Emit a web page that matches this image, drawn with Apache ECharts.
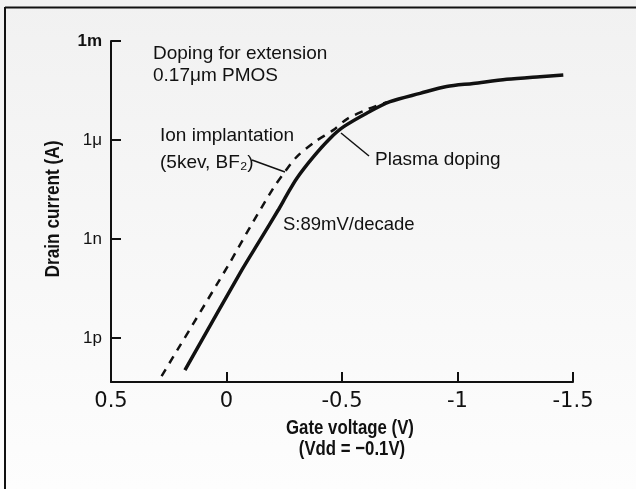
<!DOCTYPE html>
<html>
<head>
<meta charset="utf-8">
<script src="https://cdn.jsdelivr.net/npm/echarts@6/dist/echarts.min.js"></script>
<style>
html,body{margin:0;padding:0;background:#fff;}
#chart{width:636px;height:489px;}
</style>
</head>
<body>
<div id="chart"></div>
<script>
// ---- data (gate voltage in V, drain current in A) ----
var plasmaVg = [0.18, -0.066, -0.145, -0.224, -0.26, -0.304, -0.376, -0.448, -0.506, -0.607, -0.708, -0.838, -0.953, -1.068, -1.213, -1.357, -1.458];
var plasmaId = [1.07e-13, 1.15e-10, 9.3e-10, 7.6e-9, 2.1e-8, 6.9e-8, 3.1e-7, 1.12e-6, 2.5e-6, 6.5e-6, 1.45e-5, 2.6e-5, 4.2e-5, 5.2e-5, 6.9e-5, 8.3e-5, 9.3e-5];
var ionVg = [0.281, -0.008, -0.102, -0.203, -0.253, -0.304, -0.383, -0.462, -0.523, -0.613, -0.695];
var ionId = [7.1e-14, 1.62e-10, 2.3e-9, 3.5e-8, 1.1e-7, 3.1e-7, 8.9e-7, 2.0e-6, 4.4e-6, 8.7e-6, 1.41e-5];
var xTicks = [0.5, 0, -0.5, -1, -1.5];
var yTickValues = [1e-12, 1e-9, 1e-6, 1e-3];
var yTickLabels = ['1p', '1n', '1\u03bc', '1m'];
var yMinCurrent = 4.7e-14, yMaxCurrent = 1e-3;

function toPts(vs, is) {
  return vs.map(function (v, i) { return [v, Math.log10(is[i])]; });
}
var yCustom = yTickValues.map(function (v) { return Math.log10(v); });

var FONT = '"Liberation Sans", Arial, sans-serif';
var WIDE = '"DejaVu Sans", "Liberation Sans", sans-serif';

var chart = echarts.init(document.getElementById('chart'), null, {renderer: 'canvas'});
chart.setOption({
  animation: false,
  backgroundColor: {
    type: 'linear', x: 0, y: 0, x2: 0, y2: 1,
    colorStops: [{offset: 0, color: '#f1f1f1'}, {offset: 1, color: '#fdfdfd'}]
  },
  grid: {left: 111, right: 63, top: 41, bottom: 107},
  xAxis: {
    type: 'value', inverse: true, min: -1.5, max: 0.5, interval: 0.5,
    axisLine: {onZero: false, lineStyle: {color: '#111', width: 2}},
    axisTick: {inside: true, length: 10, lineStyle: {color: '#111', width: 2}},
    splitLine: {show: false},
    axisLabel: {color: '#111', fontFamily: WIDE, fontSize: 21, margin: 9,
      formatter: function (v) { return String(v); }}
  },
  yAxis: {
    type: 'value', min: Math.log10(yMinCurrent), max: Math.log10(yMaxCurrent),
    axisLine: {onZero: false, lineStyle: {color: '#111', width: 2}},
    axisTick: {inside: true, length: 10, customValues: yCustom, lineStyle: {color: '#111', width: 2}},
    splitLine: {show: false},
    axisLabel: {color: '#111', fontFamily: FONT, fontSize: 17, margin: 9, customValues: yCustom,
      rich: {b: {fontFamily: FONT, fontSize: 17, fontWeight: 'bold', color: '#111'}},
      formatter: function (v) {
        for (var i = 0; i < yCustom.length; i++) {
          if (Math.abs(v - yCustom[i]) < 1e-6) {
            return i === yCustom.length - 1 ? '{b|' + yTickLabels[i] + '}' : yTickLabels[i];
          }
        }
        return '';
      }}
  },
  series: [
    {
      name: 'Ion implantation', type: 'line', data: toPts(ionVg, ionId), smooth: 0.3,
      showSymbol: false, lineStyle: {color: '#111', width: 2.5, type: [8, 7]}
    },
    {
      name: 'Plasma doping', type: 'line', data: toPts(plasmaVg, plasmaId), smooth: 0.3,
      showSymbol: false, lineStyle: {color: '#111', width: 3.5}
    }
  ],
  graphic: [
    {type: 'line', shape: {x1: 5, y1: 7.5, x2: 636, y2: 7.5}, style: {stroke: '#111', lineWidth: 2}},
    {type: 'line', shape: {x1: 5, y1: 7, x2: 5, y2: 489}, style: {stroke: '#111', lineWidth: 2}},
    {type: 'text', x: 350, y: 428, scaleX: 0.8,
      style: {text: 'Gate voltage (V)', font: 'bold 21px ' + FONT, fill: '#111', align: 'center', verticalAlign: 'middle'}},
    {type: 'text', x: 352, y: 449, scaleX: 0.8,
      style: {text: '(Vdd = \u22120.1V)', font: 'bold 21px ' + FONT, fill: '#111', align: 'center', verticalAlign: 'middle'}},
    {type: 'text', x: 53, y: 209, rotation: Math.PI / 2, scaleX: 0.82,
      style: {text: 'Drain current (A)', font: 'bold 21px ' + FONT, fill: '#111', align: 'center', verticalAlign: 'middle'}},
    {type: 'text', left: 153, top: 43, style: {text: 'Doping for extension\n0.17\u03bcm PMOS', font: '19px ' + FONT, fill: '#111', lineHeight: 22}},
    {type: 'text', left: 160, top: 122, style: {text: 'Ion implantation\n(5kev, BF\u2082)', font: '19px ' + FONT, fill: '#111', lineHeight: 27}},
    {type: 'line', shape: {x1: 252, y1: 160, x2: 285, y2: 172}, style: {stroke: '#111', lineWidth: 1.5}},
    {type: 'line', shape: {x1: 341, y1: 133, x2: 369, y2: 156}, style: {stroke: '#111', lineWidth: 1.5}},
    {type: 'text', left: 375, top: 150, style: {text: 'Plasma doping', font: '19px ' + FONT, fill: '#111'}},
    {type: 'text', left: 283, top: 215, style: {text: 'S:89mV/decade', font: '18.5px ' + FONT, fill: '#111'}}
  ]
});
</script>
</body>
</html>
